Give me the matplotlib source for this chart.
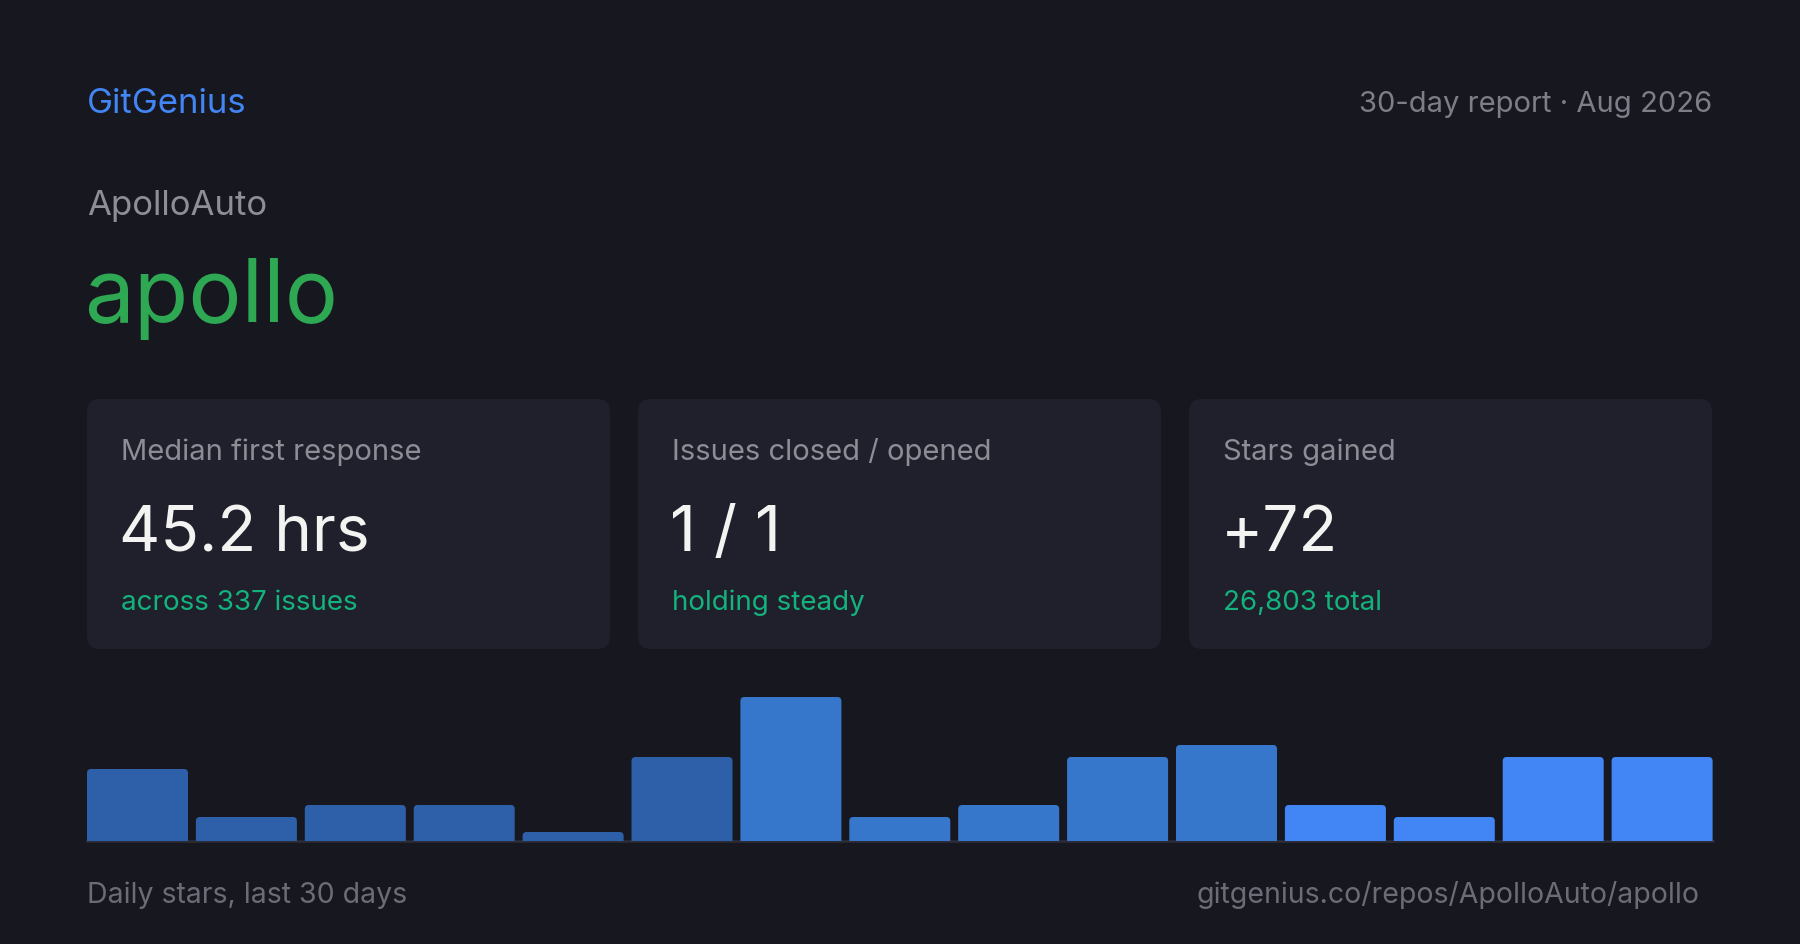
import numpy as np
import matplotlib
matplotlib.use('Agg')
import matplotlib.pyplot as plt
from matplotlib.patches import FancyBboxPatch

plt.rcParams['font.family'] = ['Inter', 'DejaVu Sans']

# data
owner = 'ApolloAuto'
repo = 'apollo'
card_titles = ['Median first response', 'Issues closed / opened', 'Stars gained']
card_values = ['45.2 hrs', '1 / 1', '+72']
card_notes = ['across 337 issues', 'holding steady', '26,803 total']
daily_stars = [6, 2, 3, 3, 0, 7, 12, 2, 3, 7, 8, 3, 2, 7, 7]

BG = '#16171f'
CARD = '#1f202b'
W, H = 1800, 945

fig = plt.figure(figsize=(18, 9.45), dpi=100, facecolor=BG)

# layout layer in pixel coordinates
bg = fig.add_axes([0, 0, 1, 1])
bg.set_xlim(0, W)
bg.set_ylim(H, 0)
bg.axis('off')

bg.text(87, 113, 'GitGenius', color='#4285f4', fontsize=25, va='baseline')
bg.text(1712, 112, '30-day report · Aug 2026', color='#7e7e88', fontsize=21,
        ha='right', va='baseline')
bg.text(87, 215, owner, color='#8e8e97', fontsize=25, va='baseline')
bg.text(84, 322, repo, color='#2ea853', fontsize=64, va='baseline')

card_x = [87, 638, 1189]
for x0, t, v, n in zip(card_x, card_titles, card_values, card_notes):
    bg.add_patch(FancyBboxPatch((x0, 400), 523, 250,
                                boxstyle='round,pad=0,rounding_size=13',
                                fc=CARD, ec='none'))
    bg.text(x0 + 34, 460, t, color='#8d8d96', fontsize=21, va='baseline')
    bg.text(x0 + 32, 551, v, color='#f3f3f1', fontsize=46, va='baseline')
    bg.text(x0 + 34, 610, n, color='#14b27c', fontsize=20, va='baseline')

bg.text(87, 903, 'Daily stars, last 30 days', color='#6c6c76', fontsize=20.5,
        va='baseline')
bg.text(1700, 903, 'gitgenius.co/repos/ApolloAuto/apollo', color='#6c6c76',
        fontsize=20.5, ha='right', va='baseline')

# bar chart
n = len(daily_stars)
pitch = 108.9
span = n * pitch
ax = fig.add_axes([87 / W, (H - 842) / H, span / W, 144 / H])
ax.set_facecolor('none')
ax.set_xlim(-0.5, n - 0.5)
ax.set_ylim(0, max(daily_stars))
ax.axis('off')

colors = ['#2e60a9'] * 6 + ['#3777cb'] * 5 + ['#4286f5'] * 4
px_y = 144 / max(daily_stars)
aspect = pitch / px_y
r = 4 / pitch
bw = 101 / pitch
heights = np.maximum(daily_stars, 0.75)  # zero days still get a stub
for i, h in enumerate(heights):
    ax.add_patch(FancyBboxPatch((i - 0.5, -0.5), bw, h + 0.5,
                                boxstyle=f'round,pad=0,rounding_size={r}',
                                mutation_aspect=aspect,
                                fc=colors[i], ec='none'))
ax.axhline(0, xmin=0, xmax=(span - pitch + 101) / span, color='#2c2d38',
           lw=1.8, clip_on=False, zorder=0)

fig.savefig('out.png', dpi=100, facecolor=BG)
